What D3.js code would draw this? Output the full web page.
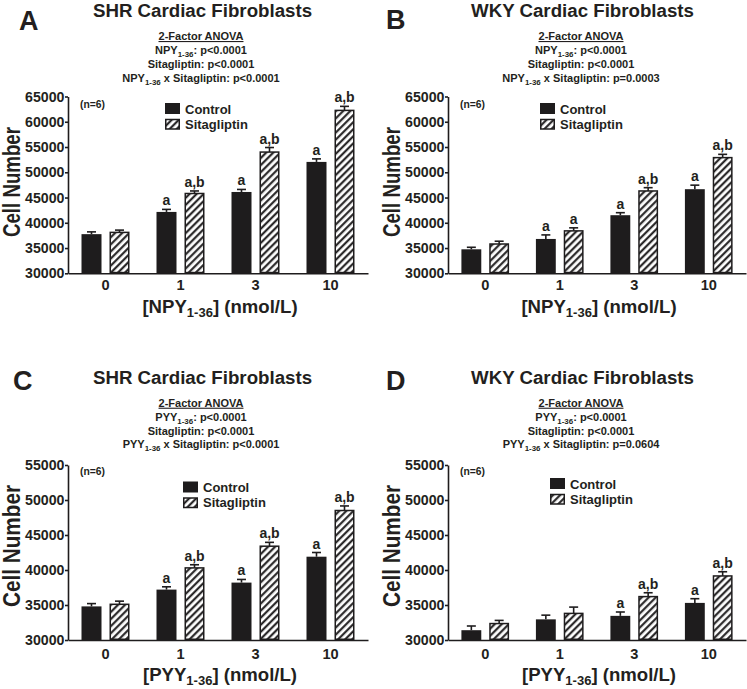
<!DOCTYPE html>
<html><head><meta charset="utf-8">
<script src="https://cdn.jsdelivr.net/npm/d3@7"></script>
<style>
body{margin:0;background:#fff}
svg{display:block}
text{font-family:"Liberation Sans",Arial,sans-serif;font-weight:bold;fill:#231f20}
</style>
</head><body>
<svg id="chart" width="747" height="689"></svg>
<script>
// ---------- data ----------
const categories = ["0", "1", "3", "10"];
const seriesNames = ["Control", "Sitagliptin"];
const yTicksNPY = [30000, 35000, 40000, 45000, 50000, 55000, 60000, 65000];
const yTicksPYY = [30000, 35000, 40000, 45000, 50000, 55000];

// Panel A: SHR, NPY1-36
const shrNpyControl    = [37750, 42150, 46100, 52050];
const shrNpyControlErr = [450, 500, 500, 600];
const shrNpySita       = [38100, 45800, 54000, 62250];
const shrNpySitaErr    = [450, 500, 900, 800];
const shrNpyControlSig = ["", "a", "a", "a"];
const shrNpySitaSig    = ["", "a,b", "a,b", "a,b"];

// Panel B: WKY, NPY1-36
const wkyNpyControl    = [34750, 36800, 41500, 46650];
const wkyNpyControlErr = [400, 800, 500, 800];
const wkyNpySita       = [35800, 38400, 46300, 52900];
const wkyNpySitaErr    = [550, 600, 650, 650];
const wkyNpyControlSig = ["", "a", "a", "a"];
const wkyNpySitaSig    = ["", "a", "a,b", "a,b"];

// Panel C: SHR, PYY1-36
const shrPyyControl    = [34800, 37200, 38200, 41900];
const shrPyyControlErr = [400, 400, 450, 600];
const shrPyySita       = [35100, 40300, 43400, 48500];
const shrPyySitaErr    = [450, 450, 550, 650];
const shrPyyControlSig = ["", "a", "a", "a"];
const shrPyySitaSig    = ["", "a,b", "a,b", "a,b"];

// Panel D: WKY, PYY1-36
const wkyPyyControl    = [31400, 32950, 33450, 35300];
const wkyPyyControlErr = [600, 600, 550, 600];
const wkyPyySita       = [32350, 33800, 36200, 39150];
const wkyPyySitaErr    = [450, 900, 550, 600];
const wkyPyyControlSig = ["", "", "a", "a"];
const wkyPyySitaSig    = ["", "", "a,b", "a,b"];

// ---------- layout ----------
const panels = [
  {letter:"A", title:"SHR Cardiac Fibroblasts", pep:"NPY", inter:"p<0.0001",
   ctrl:shrNpyControl, ctrlErr:shrNpyControlErr, sita:shrNpySita, sitaErr:shrNpySitaErr,
   ctrlSig:shrNpyControlSig, sitaSig:shrNpySitaSig, ticks:yTicksNPY,
   ox:0, x0:68, x1:368, yTop:96.5, yBot:273.3,
   letterPos:[19,29.5], titleY:17, anovaY:40, legX:165, legY:103, nY:108, ylabLen:110, ylabC:182, xTickY:290, xTitleY:313},
  {letter:"B", title:"WKY Cardiac Fibroblasts", pep:"NPY", inter:"p=0.0003",
   ctrl:wkyNpyControl, ctrlErr:wkyNpyControlErr, sita:wkyNpySita, sitaErr:wkyNpySitaErr,
   ctrlSig:wkyNpyControlSig, sitaSig:wkyNpySitaSig, ticks:yTicksNPY,
   ox:380, x0:448, x1:746, yTop:96.5, yBot:273.3,
   letterPos:[386,28.5], titleY:17, anovaY:40, legX:540, legY:103, nY:108, ylabLen:110, ylabC:182, xTickY:290, xTitleY:313},
  {letter:"C", title:"SHR Cardiac Fibroblasts", pep:"PYY", inter:"p<0.0001",
   ctrl:shrPyyControl, ctrlErr:shrPyyControlErr, sita:shrPyySita, sitaErr:shrPyySitaErr,
   ctrlSig:shrPyyControlSig, sitaSig:shrPyySitaSig, ticks:yTicksPYY,
   ox:0, x0:68, x1:368, yTop:465, yBot:640,
   letterPos:[13,390], titleY:383.5, anovaY:406.7, legX:183, legY:481.5, nY:475, ylabLen:122, ylabC:546, xTickY:659, xTitleY:681},
  {letter:"D", title:"WKY Cardiac Fibroblasts", pep:"PYY", inter:"p=0.0604",
   ctrl:wkyPyyControl, ctrlErr:wkyPyyControlErr, sita:wkyPyySita, sitaErr:wkyPyySitaErr,
   ctrlSig:wkyPyyControlSig, sitaSig:wkyPyySitaSig, ticks:yTicksPYY,
   ox:380, x0:448, x1:746, yTop:465, yBot:640,
   letterPos:[386,390], titleY:383.5, anovaY:406.7, legX:550, legY:478, nY:475, ylabLen:122, ylabC:546, xTickY:659, xTitleY:681}
];

const ink = "#1e1c1d";
const svg = d3.select("#chart");

// hatch pattern
const defs = svg.append("defs");
const pat = defs.append("pattern").attr("id","hatch").attr("patternUnits","userSpaceOnUse")
  .attr("width",5).attr("height",5).attr("patternTransform","rotate(45)");
pat.append("rect").attr("width",5).attr("height",5).attr("fill","#fff");
pat.append("line").attr("x1",1.2).attr("y1",0).attr("x2",1.2).attr("y2",5)
  .attr("stroke",ink).attr("stroke-width",2.1);

function subLine(g, x, y, parts, size){
  const t = g.append("text").attr("x",x).attr("y",y).attr("text-anchor","middle").attr("font-size",size);
  parts.forEach(p=>{
    if(p.sub){
      t.append("tspan").attr("font-size",size*0.72).attr("dy",size*0.28).text(p.t);
    } else {
      t.append("tspan").attr("dy", p.back ? -size*0.28 : 0).text(p.t);
    }
  });
  return t;
}

panels.forEach(P=>{
  const g = svg.append("g");
  const x = d3.scaleBand().domain(categories).range([P.x0,P.x1]).paddingInner(0.36).paddingOuter(0.18);
  const xs = d3.scaleBand().domain(seriesNames).range([0,x.bandwidth()]).paddingInner(8/28);
  const y = d3.scaleLinear().domain([30000, d3.max(P.ticks)]).range([P.yBot,P.yTop]);
  const cx = (P.x0+P.x1)/2;

  // panel letter & title
  g.append("text").attr("x",P.letterPos[0]).attr("y",P.letterPos[1]).attr("font-size",27).text(P.letter);
  g.append("text").attr("x",P.ox+202.5).attr("y",P.titleY).attr("text-anchor","middle").attr("font-size",18.7).text(P.title);

  // ANOVA block
  const ac = P.ox+201;
  g.append("text").attr("x",ac).attr("y",P.anovaY).attr("text-anchor","middle").attr("font-size",11)
    .attr("text-decoration","underline").text("2-Factor ANOVA");
  subLine(g, ac, P.anovaY+13.9, [{t:P.pep},{t:"1-36",sub:true},{t:": p<0.0001",back:true}], 11);
  g.append("text").attr("x",ac).attr("y",P.anovaY+27.8).attr("text-anchor","middle").attr("font-size",11).text("Sitagliptin: p<0.0001");
  subLine(g, ac, P.anovaY+41.7, [{t:P.pep},{t:"1-36",sub:true},{t:" x Sitagliptin: "+P.inter,back:true}], 11);

  // axes
  const yAxis = d3.axisLeft(y).tickValues(P.ticks).tickSize(3).tickSizeOuter(0).tickPadding(0.5).tickFormat(d3.format("d"));
  const ya = g.append("g").attr("transform",`translate(${P.x0},0)`).call(yAxis);
  ya.selectAll("text").attr("font-size",14.2).attr("fill",ink).style("font-family",'"Liberation Sans",Arial,sans-serif').style("font-weight","bold");
  ya.selectAll("path,line").attr("stroke",ink).attr("stroke-width",1.6);

  const xAxis = d3.axisBottom(x).tickSize(0).tickSizeOuter(0).tickPadding(0);
  const xa = g.append("g").attr("transform",`translate(0,${P.yBot})`).call(xAxis);
  xa.selectAll("path").attr("stroke",ink).attr("stroke-width",1.6);
  xa.selectAll("text").attr("font-size",14.6).attr("fill",ink).attr("dy",0).attr("y",P.xTickY-P.yBot)
    .style("font-family",'"Liberation Sans",Arial,sans-serif').style("font-weight","bold");

  // axis titles
  const xt = g.append("text").attr("x",cx+2).attr("y",P.xTitleY).attr("text-anchor","middle").attr("font-size",18.6);
  xt.append("tspan").text("["+P.pep);
  xt.append("tspan").attr("font-size",13).attr("dy",4).text("1-36");
  xt.append("tspan").attr("dy",-4).text("] (nmol/L)");
  g.append("text").attr("transform",`translate(${P.x0-48.5},${P.ylabC}) rotate(-90)`).attr("text-anchor","middle")
    .attr("font-size",23).attr("textLength",P.ylabLen).attr("lengthAdjust","spacingAndGlyphs").text("Cell Number");

  // (n=6)
  g.append("text").attr("x",P.x0+12).attr("y",P.nY).attr("font-size",10.3).text("(n=6)");

  // bars
  const rows = [];
  categories.forEach((c,i)=>{
    rows.push({cat:c, s:"Control", v:P.ctrl[i], e:P.ctrlErr[i], sig:P.ctrlSig[i]});
    rows.push({cat:c, s:"Sitagliptin", v:P.sita[i], e:P.sitaErr[i], sig:P.sitaSig[i]});
  });
  const bx = d=>x(d.cat)+xs(d.s);
  const bw = xs.bandwidth();
  // error bars
  g.selectAll(".err").data(rows).join("g").each(function(d){
    const e = d3.select(this), mx = bx(d)+bw/2;
    e.append("line").attr("x1",mx).attr("x2",mx).attr("y1",y(d.v)).attr("y2",y(d.v+d.e)).attr("stroke",ink).attr("stroke-width",1.6);
    e.append("line").attr("x1",mx-4.5).attr("x2",mx+4.5).attr("y1",y(d.v+d.e)).attr("y2",y(d.v+d.e)).attr("stroke",ink).attr("stroke-width",1.6);
  });
  g.selectAll(".bar").data(rows).join("rect")
    .attr("x",d=>d.s==="Control"?bx(d):bx(d)+0.75)
    .attr("width",d=>d.s==="Control"?bw:bw-1.5)
    .attr("y",d=>y(d.v))
    .attr("height",d=>y(30000)-y(d.v)-(d.s==="Control"?0:0.75))
    .attr("fill",d=>d.s==="Control"?ink:"url(#hatch)")
    .attr("stroke",d=>d.s==="Control"?"none":ink)
    .attr("stroke-width",1.5);
  g.selectAll(".sig").data(rows.filter(d=>d.sig)).join("text")
    .attr("x",d=>bx(d)+bw/2).attr("y",d=>y(d.v+d.e)-4).attr("text-anchor","middle")
    .attr("font-size",14).text(d=>d.sig);

  // legend
  const lg = g.append("g");
  lg.append("rect").attr("x",P.legX).attr("y",P.legY).attr("width",15).attr("height",11).attr("fill",ink);
  lg.append("rect").attr("x",P.legX+0.75).attr("y",P.legY+16.5).attr("width",13.5).attr("height",9.5)
    .attr("fill","url(#hatch)").attr("stroke",ink).attr("stroke-width",1.5);
  lg.append("text").attr("x",P.legX+20).attr("y",P.legY+10.5).attr("font-size",13).text(seriesNames[0]);
  lg.append("text").attr("x",P.legX+20).attr("y",P.legY+25.5).attr("font-size",13).text(seriesNames[1]);
});
</script>
</body></html>
